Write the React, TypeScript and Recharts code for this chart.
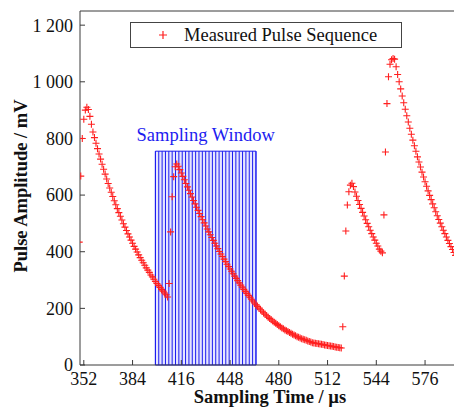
import React from "react";
import {
  ComposedChart, Scatter, XAxis, YAxis, ReferenceArea, ReferenceLine, Label,
} from "recharts";

const SERIF = '"Liberation Serif", "Times New Roman", serif';
const RED = "#ff1f1f";
const BLUE = "#1c1cf0";
const AXIS = "#3a3a3a";

// amplitude samples (mV), one per microsecond
const PULSE1_START = 349;
const PULSE1 = [
  434, 667, 800, 868, 900, 910, 902, 878, 850, 823,
  803, 783, 764, 745, 727, 709, 691, 674, 657, 641,
  625, 610, 595, 580, 566, 552, 538, 525, 512, 499,
  487, 475, 463, 452, 441, 430, 419, 409, 399, 389,
  379, 370, 361, 352, 343, 335, 327, 318, 311, 303,
  295, 288, 281, 274, 267, 261, 254, 248, 240,
];

const PULSE2_START = 408;
const PULSE2 = [
  288, 470, 594, 665, 700, 710, 702, 690, 678, 666,
  654, 641, 629, 617, 605, 593, 581, 569, 557, 546,
  535, 524, 513, 502, 491, 480, 470, 460, 450, 440,
  430, 420, 411, 401, 392, 383, 374, 365, 356, 348,
  339, 331, 322, 314, 306, 298, 290, 282, 275, 267,
  260, 253, 246, 239, 232, 226, 219, 213, 207, 201,
  195, 190, 184, 179, 174, 169, 164, 160, 155, 151,
  147, 143, 139, 135, 131, 128, 124, 121, 118, 115,
  112, 109, 106, 103, 100, 98, 95, 93, 91, 89,
  87, 85, 83, 81, 79, 78, 77, 76, 75, 74,
  73, 72, 71, 70, 69, 68, 67, 66, 65, 64,
  63, 62, 61, 60,
];

const PULSE3_START = 522;
const PULSE3 = [
  135, 314, 473, 565, 612, 635, 642, 630, 611, 596,
  581, 567, 553, 539, 526, 513, 500, 488, 476, 464,
  452, 441, 430, 420, 409, 402, 396,
];

const PULSE4_START = 549;
const PULSE4 = [
  530, 752, 923, 1018, 1062, 1078, 1082, 1080, 1053, 1026,
  1000, 975, 950, 926, 903, 880, 858, 836, 815, 794,
  774, 755, 735, 717, 699, 681, 664, 647, 631, 615,
  599, 584, 569, 555, 541, 527, 514, 501, 488, 476,
  464, 452, 440, 429, 418, 408, 397, 387,
];

// sampling window gates (µs) and height (mV)
const WINDOW_GATES = [
  399, 401.2, 403.4, 405.6, 407.8, 410, 412.2, 414.4, 416.6, 418.8,
  421, 423.2, 425.4, 427.6, 429.8, 432, 434.2, 436.4, 438.6, 440.8,
  443, 445.2, 447.4, 449.6, 451.8, 454, 456.2, 458.4, 460.6, 462.8, 465,
];
const WINDOW_TOP = 755;

const X_TICKS = [352, 384, 416, 448, 480, 512, 544, 576];
const X_DOMAIN = [349.5, 595];
const Y_TICKS = [0, 200, 400, 600, 800, 1000, 1200];
const Y_MAX = 1250;

const toPoints = (start: number, values: number[]) =>
  values.map((v, i) => ({ t: start + i, v }));

const points = [
  ...toPoints(PULSE1_START, PULSE1),
  ...toPoints(PULSE2_START, PULSE2),
  ...toPoints(PULSE3_START, PULSE3),
  ...toPoints(PULSE4_START, PULSE4),
];

const fmtY = (v: number) =>
  v >= 1000 ? `${Math.floor(v / 1000)} ${String(v % 1000).padStart(3, "0")}` : String(v);

function PlusMark(props: any) {
  const { cx, cy } = props;
  if (cx == null || cy == null) return null;
  return (
    <path
      d={`M${cx - 3.5},${cy}H${cx + 3.5}M${cx},${cy - 3.5}V${cy + 3.5}`}
      stroke={RED} strokeWidth={1.1} fill="none"
    />
  );
}

export default function App() {
  const tickStyle = { fill: "#111", fontSize: 18, fontFamily: SERIF };
  return (
    <div style={{ position: "fixed", left: 0, top: 0, width: 454, height: 408, background: "#fff" }}>
      <ComposedChart width={454} height={408} margin={{ top: 11, right: 0, left: 0, bottom: 0 }}>
        <XAxis
          type="number" dataKey="t" domain={X_DOMAIN} ticks={X_TICKS}
          allowDataOverflow height={43}
          tick={tickStyle} tickSize={-5} tickMargin={12}
          axisLine={{ stroke: AXIS }} tickLine={{ stroke: AXIS }}
        >
          <Label
            content={() => (
              <text x={270} y={403} textAnchor="middle" fontFamily={SERIF}
                fontWeight="bold" fontSize={18.5} fill="#111">
                Sampling Time / µs
              </text>
            )}
          />
        </XAxis>
        <YAxis
          type="number" dataKey="v" domain={[0, Y_MAX]} ticks={Y_TICKS}
          allowDataOverflow width={80} tickFormatter={fmtY}
          tick={tickStyle} tickSize={-5} tickMargin={12}
          axisLine={{ stroke: AXIS }} tickLine={{ stroke: AXIS }}
        >
          <Label
            content={() => (
              <text x={27} y={186} transform="rotate(-90 27 186)" textAnchor="middle"
                fontFamily={SERIF} fontWeight="bold" fontSize={18.5} fill="#111">
                Pulse Amplitude / mV
              </text>
            )}
          />
        </YAxis>
        <ReferenceLine y={Y_MAX} stroke={AXIS} />
        <ReferenceArea
          x1={WINDOW_GATES[0]} x2={WINDOW_GATES[WINDOW_GATES.length - 1]}
          y1={0} y2={WINDOW_TOP}
          fill="#e6e6ff" fillOpacity={1} stroke={BLUE} strokeWidth={1}
          label={{
            value: "Sampling Window", position: "top", offset: 10,
            fill: BLUE, fontSize: 18.5, fontFamily: SERIF,
          }}
        />
        {WINDOW_GATES.map((g) => (
          <ReferenceLine
            key={g}
            segment={[{ x: g, y: 0 }, { x: g, y: WINDOW_TOP }]}
            stroke={BLUE} strokeWidth={1}
          />
        ))}
        <Scatter
          data={points} dataKey="v" shape={<PlusMark />}
          isAnimationActive={false}
        />
      </ComposedChart>
      <div
        style={{
          position: "absolute", left: 130, top: 22, width: 270, height: 24,
          border: "1px solid #444", display: "flex", alignItems: "center",
          fontFamily: SERIF, fontSize: 18.5, color: "#111", boxSizing: "content-box",
        }}
      >
        <svg width={12} height={12} style={{ marginLeft: 26, marginRight: 15 }}>
          <path d="M2,6H10M6,2V10" stroke={RED} strokeWidth={1.2} />
        </svg>
        <span>Measured Pulse Sequence</span>
      </div>
    </div>
  );
}
